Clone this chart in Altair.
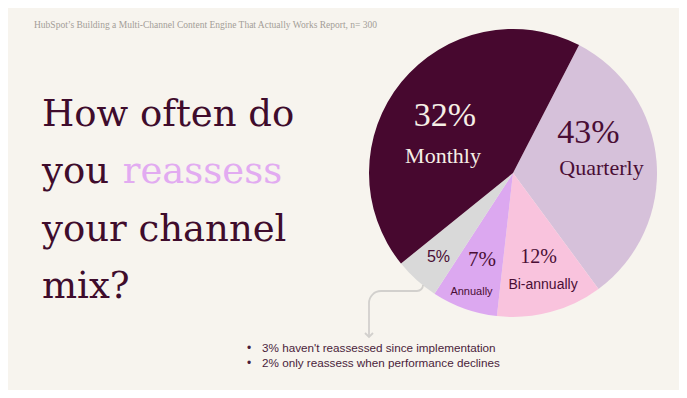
import math
import altair as alt
import pandas as pd

# ---- data ----
categories = ["Quarterly", "Bi-annually", "Annually", "Other", "Monthly"]
shares = [32.3, 11.9, 7.4, 5.0, 43.4]          # slice sizes as drawn
pct_labels = ["43%", "12%", "7%", "5%", "32%"]  # printed labels
slice_colors = ["#d6c1da", "#f9c3dd", "#dca8f0", "#d9d9d9", "#47082f"]

subtitle = "HubSpot\u2019s Building a Multi-Channel Content Engine That Actually Works Report, n= 300"
title_lines = ["How often do", "you", "your channel", "mix?"]
title_accent = "reassess"
bullets = ["3% haven't reassessed since implementation",
           "2% only reassess when performance declines"]

BG = "#f7f4ee"
PLUM = "#3f0c2c"
LILAC = "#e2abf1"
GRAY_LINE = "#d2d0cd"

pie_df = pd.DataFrame({"category": categories, "share": shares,
                       "idx": list(range(len(categories)))})
one = pd.DataFrame({"k": [0]})

start = math.radians(27.3)
CX, CY = 505, 165

pie = alt.Chart(pie_df).mark_arc(outerRadius=144).encode(
    theta=alt.Theta("share:Q", stack=True,
                    scale=alt.Scale(domain=[0, 100], range=[start, start + 2 * math.pi])),
    color=alt.Color("category:N", scale=alt.Scale(domain=categories, range=slice_colors),
                    legend=None),
    order=alt.Order("idx:Q"),
    x=alt.value(CX), y=alt.value(CY),
)


def txt(s, x, y, size, color, font, align="left"):
    return alt.Chart(one).mark_text(
        align=align, baseline="alphabetic", font=font, fontSize=size, color=color
    ).encode(x=alt.value(x), y=alt.value(y), text=alt.value(s))


layers = [pie]

# header
layers.append(txt(subtitle, 26, 19.5, 9.5, "#a39d97", "Liberation Serif"))

# title
TF = "DejaVu Serif"
layers.append(txt(title_lines[0], 34, 117.5, 37, PLUM, TF))
layers.append(txt(title_lines[1], 34, 175, 37, PLUM, TF))
layers.append(txt(title_accent, 114.7, 175, 37, LILAC, TF))
layers.append(txt(title_lines[2], 34, 232.5, 37, PLUM, TF))
layers.append(txt(title_lines[3], 34, 290, 37, PLUM, TF))

# pie labels
SF = "Liberation Serif"
SS = "Liberation Sans"
DARK = "#4a0e35"
CREAM = "#f6efe6"
layers.append(txt(pct_labels[4], 437, 118, 34, CREAM, SF, "center"))
layers.append(txt(categories[4], 435, 155, 22, CREAM, SF, "center"))
layers.append(txt(pct_labels[0], 580.5, 135, 34, DARK, SF, "center"))
layers.append(txt(categories[0], 593.5, 167, 22, DARK, SF, "center"))
layers.append(txt(pct_labels[1], 530.5, 255.3, 20, DARK, SF, "center"))
layers.append(txt(categories[1], 535, 281, 14, DARK, SS, "center"))
layers.append(txt(pct_labels[2], 474, 258, 21, DARK, SF, "center"))
layers.append(txt(categories[2], 463.5, 287, 11, DARK, SS, "center"))
layers.append(txt(pct_labels[3], 430.5, 253.7, 16, DARK, SS, "center"))

# connector
layers.append(alt.Chart(one).mark_arc(innerRadius=5.1, outerRadius=6.9, theta=math.pi / 2,
                                      theta2=math.pi, color=GRAY_LINE)
              .encode(x=alt.value(409), y=alt.value(277)))
layers.append(alt.Chart(one).mark_rule(color=GRAY_LINE, strokeWidth=1.8)
              .encode(x=alt.value(373), x2=alt.value(409), y=alt.value(283)))
layers.append(alt.Chart(one).mark_arc(innerRadius=11.1, outerRadius=12.9, theta=1.5 * math.pi,
                                      theta2=2 * math.pi, color=GRAY_LINE)
              .encode(x=alt.value(373), y=alt.value(295)))
layers.append(alt.Chart(one).mark_rule(color=GRAY_LINE, strokeWidth=1.8)
              .encode(x=alt.value(361), y=alt.value(295), y2=alt.value(329)))
layers.append(alt.Chart(one).mark_point(shape="M-1,-0.5L0,0.5L1,-0.5", filled=False, size=64,
                                        strokeWidth=1.8, color=GRAY_LINE, opacity=1)
              .encode(x=alt.value(361), y=alt.value(327)))

# bullets
BUL = "#4a1d3b"
layers.append(txt("\u2022", 241, 343.7, 12, BUL, SS, "center"))
layers.append(txt("\u2022", 241, 358.7, 12, BUL, SS, "center"))
layers.append(txt(bullets[0], 254, 343.7, 11.7, BUL, SS))
layers.append(txt(bullets[1], 254, 358.7, 11.7, BUL, SS))

chart = alt.layer(*layers).properties(
    width=671, height=382, background=BG, padding=0, autosize="none"
).configure_view(stroke=None)

chart.save("out.html", embed_options={"renderer": "svg", "actions": False})
